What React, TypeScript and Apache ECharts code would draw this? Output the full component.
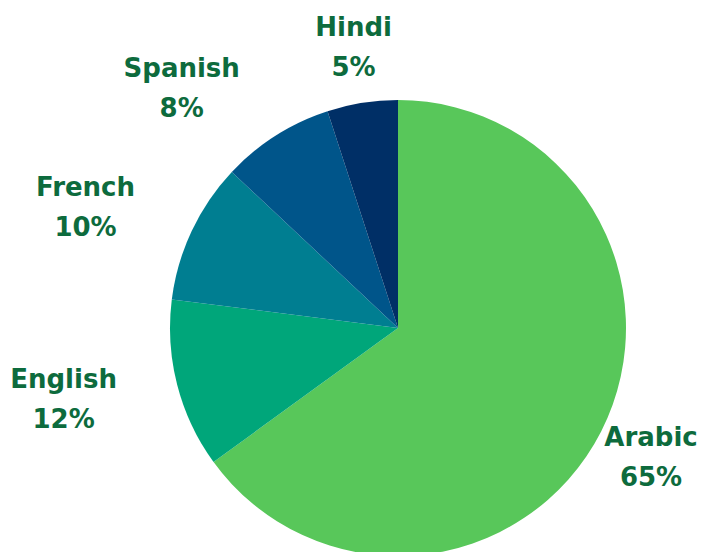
import React, { useEffect, useRef } from "react";
import * as echarts from "echarts";

const categories = ["Arabic", "English", "French", "Spanish", "Hindi"];
const values = [65, 12, 10, 8, 5];
const colors = ["#58C75A", "#00A67A", "#007E91", "#00558A", "#002F66"];

const CX = 398;
const CY = 328;
const R = 228;
const LABEL_DIST = 284;
const W = 705;

export default function App() {
  const ref = useRef<HTMLDivElement>(null);
  useEffect(() => {
    if (!ref.current) return;
    const chart = echarts.init(ref.current, null, { renderer: "svg" });
    const total = values.reduce((a, b) => a + b, 0);
    const mids: number[] = [];
    let acc = 0;
    values.forEach((v) => {
      mids.push(((acc + v / 2) / total) * Math.PI * 2);
      acc += v;
    });
    chart.setOption({
      animation: false,
      backgroundColor: "#ffffff",
      series: [
        {
          type: "pie",
          center: [CX, CY],
          radius: R,
          startAngle: 90,
          clockwise: true,
          avoidLabelOverlap: false,
          percentPrecision: 0,
          itemStyle: { borderWidth: 0 },
          labelLine: { show: false },
          label: {
            show: true,
            position: "outside",
            formatter: "{b}\n{d}%",
            color: "#0D6B3D",
            fontFamily: "DejaVu Sans",
            fontWeight: "bold",
            fontSize: 26,
            lineHeight: 40,
            align: "center",
          },
          labelLayout: (params: any) => {
            const i = params.dataIndex;
            const a = mids[i];
            const dx = Math.sin(a);
            const dy = -Math.cos(a);
            const ax = CX + LABEL_DIST * dx;
            const ay = CY + LABEL_DIST * dy;
            const w = params.labelRect.width;
            let x = ax;
            const nearVertical = Math.abs(dx) < 0.3;
            if (!nearVertical) {
              if (dx < 0) {
                const c = ax - 6 - w / 2;
                x = c;
              } else {
                const c = ax + 6 + w / 2;
                x = c + w / 2 > W ? ax : c;
              }
            }
            return { x, y: ay, align: "center", verticalAlign: "middle" };
          },
          data: categories.map((name, i) => ({
            name,
            value: values[i],
            itemStyle: { color: colors[i] },
          })),
        },
      ],
    });
    return () => chart.dispose();
  }, []);
  return (
    <div
      ref={ref}
      style={{ position: "fixed", left: 0, top: 0, width: 705, height: 552 }}
    />
  );
}
